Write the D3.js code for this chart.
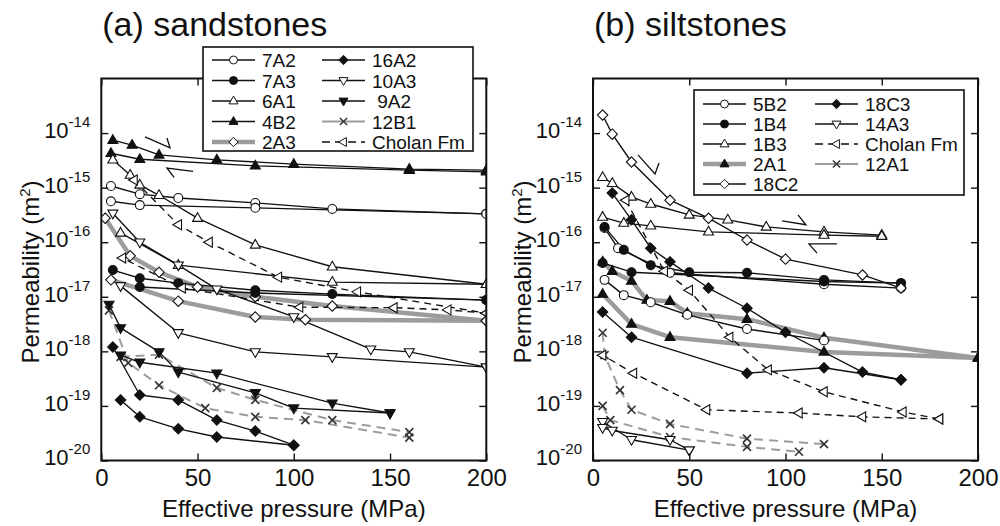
<!DOCTYPE html>
<html><head><meta charset="utf-8">
<script src="https://cdn.jsdelivr.net/npm/d3@7"></script>
<style>
body{margin:0;background:#fff}
svg{display:block}
text{font-family:"Liberation Sans",Arial,Helvetica,sans-serif;fill:#111}
</style>
</head><body>
<svg id="chart" width="1000" height="526"></svg>
<script>
// ---------------- DATA ----------------
// x: effective pressure (MPa); second value: log10 permeability (m^2)
const pressureTicks = [0, 50, 100, 150, 200];
const permExponents = [-20, -19, -18, -17, -16, -15, -14];

// (a) sandstones — each array holds loading/unloading branches
const sand4B2 = [
  [[6,-14.13],[16,-14.22],[30,-14.40],[60,-14.49],[100,-14.57],[160,-14.66],[200,-14.68]],
  [[5,-14.37],[20,-14.48],[80,-14.60],[160,-14.68],[200,-14.71]]
];
const sand7A2 = [
  [[5,-14.97],[20,-15.12],[40,-15.19],[80,-15.28],[120,-15.39],[200,-15.48]],
  [[5,-15.25],[20,-15.32],[80,-15.37],[200,-15.48]]
];
const sand6A1 = [
  [[6,-14.49],[15,-14.77],[20,-14.95],[30,-15.14],[50,-15.56],[80,-16.05],[120,-16.45],[200,-16.77]],
  [[200,-16.77],[120,-16.73],[40,-16.42],[10,-15.83]]
];
const sand10A3 = [
  [[6,-15.47],[20,-16.00],[40,-16.42],[60,-16.86],[100,-17.37],[140,-17.96],[160,-18.01],[200,-18.29]],
  [[200,-18.29],[120,-18.10],[80,-18.01],[40,-17.66],[10,-16.80]]
];
const sand7A3 = [
  [[6,-16.51],[20,-16.66],[40,-16.75],[80,-16.88],[120,-16.95],[200,-17.06]],
  [[20,-16.82],[80,-16.93],[200,-17.06]]
];
const sand2A3 = [
  [[2,-15.56],[15,-16.25],[30,-16.55],[50,-16.82],[80,-17.00],[120,-17.17],[200,-17.44]],
  [[200,-17.44],[106,-17.42],[80,-17.37],[40,-17.08],[5,-16.69]]
];
const sand16A2 = [
  [[6,-17.92],[20,-18.80],[40,-18.89],[60,-19.26],[80,-19.46],[100,-19.72]],
  [[100,-19.72],[60,-19.57],[40,-19.42],[20,-19.20],[10,-18.89]]
];
const sand9A2 = [
  [[4,-17.14],[10,-17.57],[30,-18.01],[40,-18.38],[80,-18.76],[100,-19.04],[150,-19.13]],
  [[150,-19.13],[120,-18.95],[60,-18.40],[20,-18.20],[10,-18.07]]
];
const sand12B1 = [
  [[10,-18.10],[30,-18.06],[60,-18.67],[80,-18.89],[120,-19.26],[160,-19.48]],
  [[4,-17.25],[14,-18.21],[30,-18.62],[54,-19.04],[80,-19.20],[106,-19.26],[160,-19.58]]
];
const sandCholan = [
  [[17,-14.86],[40,-15.68],[56,-16.00],[92,-16.64],[133,-16.91],[200,-17.30]],
  [[200,-17.30],[180,-17.24],[152,-17.20],[103,-17.19],[42,-16.84],[11,-16.29]]
];

// (b) siltstones
const silt5B2 = [
  [[6,-15.74],[13,-16.11],[40,-16.56],[120,-16.77],[160,-16.84]],
  [[6,-16.69],[16,-16.97],[30,-17.10],[49,-17.33],[80,-17.59],[120,-17.80]]
];
const silt1B4 = [
  [[6,-15.72],[16,-16.14],[30,-16.42],[50,-16.55],[80,-16.56],[120,-16.69],[160,-16.75]],
  [[160,-16.75],[120,-16.72],[20,-16.55],[5,-16.38]]
];
const silt1B3 = [
  [[5,-14.81],[10,-14.92],[20,-15.17],[30,-15.30],[50,-15.50],[70,-15.59],[90,-15.72],[120,-15.81],[150,-15.87]],
  [[150,-15.89],[120,-15.87],[60,-15.81],[30,-15.70],[16,-15.65],[5,-15.54]]
];
const silt2A1 = [
  [[5,-16.36],[10,-16.53],[20,-16.71],[28,-17.06],[40,-17.08],[49,-17.30],[80,-17.41],[120,-17.75],[200,-18.12]],
  [[200,-18.12],[120,-18.01],[40,-17.74],[20,-17.50],[5,-16.95]]
];
const silt18C2 = [
  [[5,-13.67],[10,-14.02],[20,-14.53],[40,-15.23],[60,-15.56],[80,-15.96],[100,-16.31],[140,-16.60],[160,-16.84]]
];
const silt18C3 = [
  [[10,-15.10],[20,-15.59],[30,-16.11],[40,-16.36],[60,-16.84],[80,-17.21],[100,-17.65],[140,-18.38],[160,-18.52]],
  [[160,-18.52],[120,-18.30],[80,-18.40],[20,-17.74],[5,-17.28]]
];
const silt14A3 = [
  [[5,-19.29],[20,-19.62],[50,-19.81]],
  [[50,-19.81],[40,-19.62],[10,-19.45],[5,-19.40]]
];
const silt12A1 = [
  [[5,-17.66],[6,-18.07],[14,-18.71],[20,-19.07],[40,-19.33],[80,-19.60],[120,-19.70]],
  [[5,-19.00],[9,-19.26],[40,-19.57],[80,-19.75],[107,-19.84]]
];
const siltCholan = [
  [[17,-15.23],[37,-16.53],[50,-16.88],[71,-17.74],[91,-18.34],[120,-18.74],[161,-19.11],[180,-19.24]],
  [[180,-19.24],[140,-19.20],[107,-19.13],[59,-19.07],[21,-18.40],[5,-18.07]]
];

// half-arrow annotations: [start, tip, barb] in (MPa, log10 k)
const sandArrows = [
  [[22.7,-14.07],[35.7,-14.27],[34.1,-14.09]],
  [[47.7,-14.70],[34.1,-14.64],[37.8,-14.81]]
];
const siltArrows = [
  [[23.4,-14.40],[32.2,-14.75],[34.3,-14.55]],
  [[98.2,-15.61],[110.6,-15.68],[106.5,-15.50]],
  [[126.8,-16.03],[112.2,-16.03],[116.4,-16.20]]
];

const sandLegend = [["7A2","16A2"],["7A3","10A3"],["6A1"," 9A2"],["4B2","12B1"],["2A3","Cholan Fm"]];
const siltLegend = [["5B2","18C3"],["1B4","14A3"],["1B3","Cholan Fm"],["2A1","12A1"],["18C2",null]];

// ---------------- STYLES ----------------
const GRAY = "#9c9c9c";
const styles = {
  black:   {stroke:"#111", width:1.35, dash:null},
  thick:   {stroke:GRAY, width:4.5, dash:null},
  grayDash:{stroke:GRAY, width:2, dash:"9,6"},
  blackDash:{stroke:"#111", width:1.35, dash:"7,5"},
  grayThin:{stroke:GRAY, width:1.8, dash:null}
};
const sandSeries = [
  {name:"2A3", data:sand2A3, sym:"diamond", fill:false, line:"thick"},
  {name:"12B1", data:sand12B1, sym:"cross", fill:false, line:"grayDash", legendLine:"grayThin"},
  {name:"4B2", data:sand4B2, sym:"up", fill:true, line:"black"},
  {name:"7A2", data:sand7A2, sym:"circle", fill:false, line:"black"},
  {name:"6A1", data:sand6A1, sym:"up", fill:false, line:"black"},
  {name:"10A3", data:sand10A3, sym:"down", fill:false, line:"black"},
  {name:"7A3", data:sand7A3, sym:"circle", fill:true, line:"black"},
  {name:"16A2", data:sand16A2, sym:"diamond", fill:true, line:"black"},
  {name:" 9A2", data:sand9A2, sym:"down", fill:true, line:"black"},
  {name:"Cholan Fm", data:sandCholan, sym:"left", fill:false, line:"blackDash"}
];
const siltSeries = [
  {name:"2A1", data:silt2A1, sym:"up", fill:true, line:"thick"},
  {name:"12A1", data:silt12A1, sym:"cross", fill:false, line:"grayDash", legendLine:"grayThin"},
  {name:"5B2", data:silt5B2, sym:"circle", fill:false, line:"black"},
  {name:"1B4", data:silt1B4, sym:"circle", fill:true, line:"black"},
  {name:"1B3", data:silt1B3, sym:"up", fill:false, line:"black"},
  {name:"18C2", data:silt18C2, sym:"diamond", fill:false, line:"black"},
  {name:"18C3", data:silt18C3, sym:"diamond", fill:true, line:"black"},
  {name:"14A3", data:silt14A3, sym:"down", fill:false, line:"black"},
  {name:"Cholan Fm", data:siltCholan, sym:"left", fill:false, line:"blackDash"}
];

function symPath(t){
  switch(t){
    case "up": return "M0,-5.5L5,3.2L-5,3.2Z";
    case "down": return "M0,5.5L5,-3.2L-5,-3.2Z";
    case "left": return "M-5.5,0L3.2,-5L3.2,5Z";
    case "diamond": return "M0,-5.2L5.2,0L0,5.2L-5.2,0Z";
    case "circle": return d3.symbol(d3.symbolCircle, 62)();
    case "cross": return "M-4,-4L4,4M-4,4L4,-4";
  }
}

const svg = d3.select("#chart");
const defs = svg.append("defs");

function drawPanel(p){
  const x = d3.scaleLinear().domain([0,200]).range([p.left, p.left + 385]);
  const y = d3.scaleLog().domain([1e-20, 1e-13]).range([460.5, 78.5]);
  const g = svg.append("g");
  defs.append("clipPath").attr("id", "clip" + p.id).append("rect")
    .attr("x", x(0)).attr("y", y(1e-13)).attr("width", x(200) - x(0)).attr("height", y(1e-20) - y(1e-13));
  const plot = g.append("g").attr("clip-path", `url(#clip${p.id})`);
  const line = d3.line().x(d => x(d[0])).y(d => y(Math.pow(10, d[1])));

  const order = ["thick","grayDash","black","blackDash"];
  order.forEach(kind => {
    p.series.filter(s => s.line === kind).forEach(s => {
      const st = styles[s.line];
      s.data.forEach(br => {
        plot.append("path").attr("d", line(br)).attr("fill","none")
          .attr("stroke", st.stroke).attr("stroke-width", st.width)
          .attr("stroke-dasharray", st.dash).attr("stroke-linejoin","round");
      });
    });
  });
  p.series.forEach(s => {
    s.data.forEach(br => {
      plot.selectAll(null).data(br).enter().append("path")
        .attr("d", symPath(s.sym))
        .attr("transform", d => `translate(${x(d[0])},${y(Math.pow(10,d[1]))})`)
        .attr("fill", s.sym === "cross" ? "none" : (s.fill ? "#111" : "#fff"))
        .attr("stroke", s.sym === "cross" ? "#333" : "#111")
        .attr("stroke-width", s.sym === "cross" ? 1.6 : 1.1);
    });
  });
  // annotation half-arrows
  p.arrows.forEach(a => {
    plot.append("path").attr("d", line(a)).attr("fill","none")
      .attr("stroke","#111").attr("stroke-width",1.3);
  });

  // axes
  const yTickVals = permExponents.map(e => Math.pow(10, e));
  const axB = g.append("g").attr("transform", `translate(0,${y(1e-20)})`)
    .call(d3.axisBottom(x).tickValues(pressureTicks).tickSize(-7).tickPadding(8).tickFormat(d3.format("d")));
  axB.selectAll("text").attr("font-size", 24).attr("fill","#111");
  const axT = g.append("g").attr("transform", `translate(0,${y(1e-13)})`)
    .call(d3.axisTop(x).tickValues(pressureTicks).tickSize(-7).tickFormat(""));
  const axL = g.append("g").attr("transform", `translate(${x(0)},0)`)
    .call(d3.axisLeft(y).tickValues(yTickVals).tickSize(-7).tickPadding(11).tickFormat(""));
  axL.selectAll(".tick text").each(function(d){
    const t = d3.select(this).attr("dy", "0.2em").attr("font-size", 22).attr("fill","#111");
    t.append("tspan").text("10");
    t.append("tspan").attr("dy", -11).attr("font-size", 15).text(String(Math.round(Math.log10(d))));
  });
  const axR = g.append("g").attr("transform", `translate(${x(200)},0)`)
    .call(d3.axisRight(y).tickValues(yTickVals).tickSize(-7).tickFormat(""));
  axT.selectAll(".tick text").remove();
  axR.selectAll(".tick text").remove();
  [axB, axT, axL, axR].forEach(a => {
    a.select(".domain").remove();
    a.selectAll(".tick line").attr("stroke","#111").attr("stroke-width",1.4);
  });
  g.append("rect").attr("x", x(0)).attr("y", y(1e-13)).attr("width", x(200)-x(0)).attr("height", y(1e-20)-y(1e-13))
    .attr("fill","none").attr("stroke","#111").attr("stroke-width",2);

  // titles
  g.append("text").attr("x", p.left + 1).attr("y", 36).attr("font-size", 34).text(p.title);
  g.append("text").attr("x", (x(0)+x(200))/2).attr("y", 517).attr("text-anchor","middle").attr("font-size", 24)
    .text("Effective pressure (MPa)");
  const yl = g.append("text").attr("transform", `translate(${p.left - 62},272) rotate(-90)`)
    .attr("text-anchor","middle").attr("font-size", 24);
  yl.append("tspan").text("Permeability (m");
  yl.append("tspan").attr("dy", -9).attr("font-size", 15).text("2");
  yl.append("tspan").attr("dy", 9).text(")");

  // legend
  const L = p.legend;
  const lg = g.append("g");
  lg.append("rect").attr("x", L.x0).attr("y", L.y0).attr("width", L.x1 - L.x0).attr("height", L.y1 - L.y0)
    .attr("fill","#fff").attr("stroke","#111").attr("stroke-width",1.6);
  p.legendRows.forEach((row, i) => {
    row.forEach((name, c) => {
      if (!name) return;
      const s = p.series.find(q => q.name === name);
      const ry = L.rowY0 + i * L.rowStep;
      const lx0 = L.cols[c], lx1 = lx0 + 43;
      const st = styles[s.legendLine || s.line];
      lg.append("line").attr("x1", lx0).attr("x2", lx1).attr("y1", ry).attr("y2", ry)
        .attr("stroke", st.stroke).attr("stroke-width", st.width)
        .attr("stroke-dasharray", s.line === "blackDash" ? "8,5" : null);
      lg.append("path").attr("d", symPath(s.sym)).attr("transform", `translate(${(lx0+lx1)/2},${ry}) scale(0.9)`)
        .attr("fill", s.sym === "cross" ? "none" : (s.fill ? "#111" : "#fff"))
        .attr("stroke", s.sym === "cross" ? "#333" : "#111").attr("stroke-width", s.sym === "cross" ? 1.6 : 1.1);
      lg.append("text").attr("x", lx1 + 7).attr("y", ry + 7).attr("font-size", 19)
        .style("white-space","pre").text(name);
    });
  });
}

drawPanel({
  id:"a", left:101.3, title:"(a) sandstones", series:sandSeries, arrows:sandArrows,
  legendRows:sandLegend,
  legend:{x0:203, y0:47, x1:473, y1:151, rowY0:60, rowStep:20.5, cols:[212, 322]}
});
drawPanel({
  id:"b", left:593, title:"(b) siltstones", series:siltSeries, arrows:siltArrows,
  legendRows:siltLegend,
  legend:{x0:694, y0:90, x1:964, y1:195, rowY0:104, rowStep:20, cols:[703, 815]}
});
</script>
</body></html>
